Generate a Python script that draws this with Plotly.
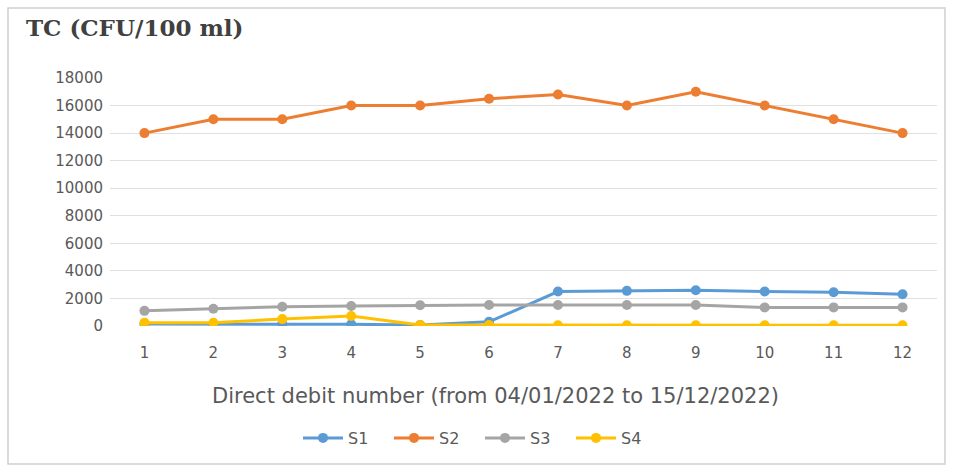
import plotly.graph_objects as go

x = list(range(1, 13))
tick_labels = [str(i) for i in x]
s1 = [150, 150, 150, 120, 70, 300, 2500, 2550, 2600, 2500, 2450, 2300]
s2 = [14000, 15000, 15000, 16000, 16000, 16500, 16800, 16000, 17000, 16000, 15000, 14000]
s3 = [1100, 1250, 1400, 1450, 1500, 1520, 1520, 1520, 1520, 1350, 1350, 1350]
s4 = [240, 240, 500, 720, 70, 70, 50, 50, 50, 50, 50, 50]
names = ["S1", "S2", "S3", "S4"]
colors = ["#5B9BD5", "#ED7D31", "#A5A5A5", "#FFC000"]
y_ticks = list(range(0, 18001, 2000))

fig = go.Figure()
for name, vals, c in zip(names, [s1, s2, s3, s4], colors):
    fig.add_trace(go.Scatter(x=x, y=vals, name=name, mode="lines+markers",
                             line=dict(color=c, width=3),
                             marker=dict(color=c, size=10)))

L, R, T, B = 110, 18, 78, 144
W, H = 955, 470
pw, ph = W - L - R, H - T - B

fig.update_layout(
    width=W, height=H,
    margin=dict(l=L, r=R, t=T, b=B),
    paper_bgcolor="white", plot_bgcolor="white",
    font=dict(family="DejaVu Sans", color="#595959", size=15),
    showlegend=True,
    legend=dict(orientation="h", x=(480 - L) / pw, xanchor="center", y=-(438 - 326) / ph,
                yanchor="middle", font=dict(size=16, color="#595959"), itemwidth=40,
                entrywidth=36, entrywidthmode="pixels"),
    annotations=[dict(text="<b>TC (CFU/100 ml)</b>", xref="paper", yref="paper",
                      x=-(L - 24) / pw, y=1 + (T - 28) / ph, xanchor="left", yanchor="middle",
                      showarrow=False, font=dict(family="DejaVu Serif", size=23, color="#404040")),
                 dict(text="Direct debit number (from 04/01/2022 to 15/12/2022)", xref="paper",
                      yref="paper", x=(495 - L) / pw, y=-(396 - 326) / ph, xanchor="center",
                      yanchor="middle", showarrow=False,
                      font=dict(size=21, color="#595959"))],
    shapes=[dict(type="rect", xref="paper", yref="paper",
                 x0=-(L - 8) / pw, x1=1 + (R - 10) / pw,
                 y0=-(B - 6) / ph, y1=1 + (T - 8) / ph,
                 line=dict(color="#D0D0D0", width=1.5))],
)
fig.update_xaxes(range=[0.5, 12.5], tickvals=x, ticktext=tick_labels, showgrid=False,
                 zeroline=False, showline=False, ticks="",
                 tickfont=dict(size=15, color="#595959"), ticklabelstandoff=16)
fig.update_yaxes(range=[0, 18000], tickvals=y_ticks, tickformat="d", showgrid=True,
                 gridcolor="#E0E0E0", gridwidth=1, zeroline=False, showline=False,
                 tickfont=dict(size=15, color="#595959"), ticklabelstandoff=6)

fig.write_html("out.html")
